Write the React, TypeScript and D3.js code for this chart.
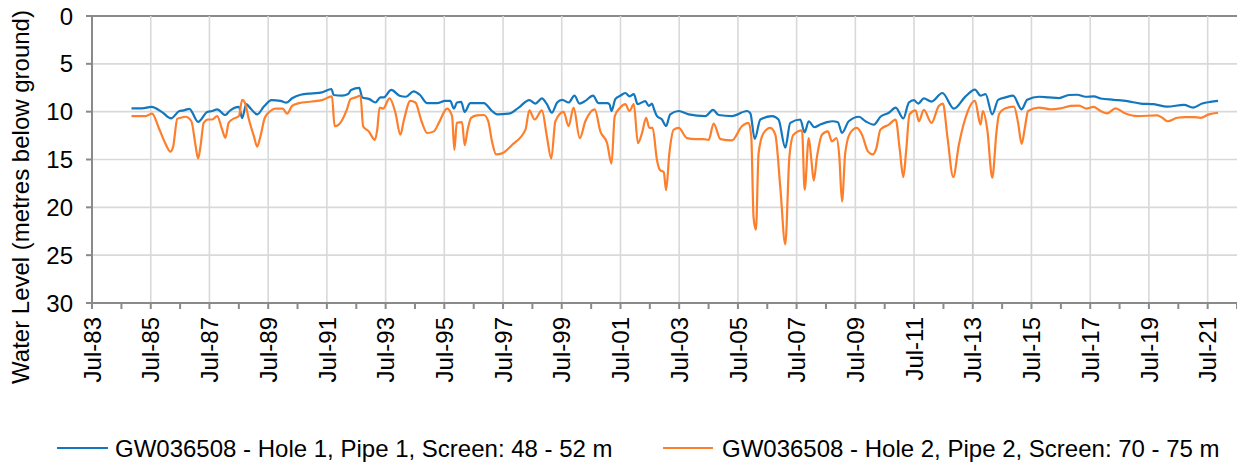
import React from "react";
import * as d3 from "d3";

// ---- Data (decimal year, metres below ground) ----
const hole1Years = [1984.84,1985.20,1985.52,1985.88,1986.19,1986.47,1986.62,1986.81,1987.11,1987.42,1987.59,1987.76,1988.04,1988.18,1988.50,1988.61,1988.75,1988.84,1989.12,1989.35,1989.61,1989.91,1990.12,1990.31,1990.60,1990.99,1991.33,1991.65,1991.73,1992.01,1992.22,1992.32,1992.60,1992.70,1992.94,1993.15,1993.32,1993.43,1993.69,1993.97,1994.19,1994.45,1994.66,1994.91,1995.25,1995.53,1995.70,1995.82,1995.93,1996.07,1996.19,1996.38,1996.84,1997.12,1997.29,1997.69,1998.03,1998.39,1998.60,1998.82,1998.99,1999.16,1999.34,1999.51,1999.73,1999.93,2000.10,2000.30,2000.56,2000.75,2001.04,2001.12,2001.19,2001.32,2001.49,2001.66,2001.81,2001.95,2002.08,2002.34,2002.46,2002.57,2002.63,2002.74,2002.91,2003.05,2003.19,2003.48,2003.82,2004.39,2004.65,2004.84,2005.29,2005.81,2005.92,2006.07,2006.26,2006.66,2006.88,2007.11,2007.28,2007.62,2007.77,2007.91,2008.10,2008.30,2008.53,2008.72,2008.90,2009.04,2009.27,2009.62,2009.84,2010.13,2010.35,2010.64,2010.87,2011.13,2011.32,2011.49,2011.64,2011.83,2012.09,2012.46,2012.85,2013.25,2013.57,2013.76,2013.93,2014.16,2014.36,2014.61,2014.87,2015.16,2015.35,2015.75,2016.09,2016.43,2016.77,2017.05,2017.34,2017.62,2017.85,2018.30,2018.76,2019.21,2019.66,2020.12,2020.69,2021.00,2021.31,2021.59,2021.85];
const hole1Levels = [9.65,9.65,9.5,10.05,10.7,9.93,9.86,9.7,11.06,10.03,9.93,9.75,10.35,9.93,9.5,10.67,9.2,9.47,10.28,9.47,8.8,8.87,9.06,8.6,8.23,8.09,7.98,7.63,8.26,8.33,8.16,7.73,7.52,8.51,8.69,9.04,8.51,8.51,7.73,8.33,8.44,7.87,8.23,9.11,9.11,8.87,8.87,9.68,9.04,8.97,10.03,9.11,9.11,9.93,10.28,10.21,9.57,8.8,9.15,8.62,9.22,10.11,9.04,8.76,9.04,8.33,9.15,8.87,8.33,9.11,9.11,9.22,9.93,8.69,8.33,8.05,8.4,8.16,9.22,8.9,9.4,9.15,9.65,10.46,10.82,11.5,10.28,9.93,10.28,10.46,9.82,10.35,10.46,9.93,10.18,12.84,10.82,10.46,10.82,13.76,11.17,10.82,12.16,11.0,11.63,11.35,11.1,11.0,11.1,12.23,11.0,10.53,11.0,11.35,10.53,10.11,9.57,10.71,9.04,8.8,9.15,8.62,8.94,8.05,9.68,8.4,7.7,8.33,8.16,10.28,8.76,8.51,8.33,9.75,8.76,8.44,8.51,8.58,8.26,8.23,8.44,8.4,8.62,8.76,8.9,9.15,9.22,9.47,9.29,9.57,9.15,8.97,8.87];

const hole2Years = [1984.84,1985.32,1985.54,1985.77,1985.98,1986.17,1986.26,1986.40,1986.51,1986.68,1986.88,1987.02,1987.11,1987.19,1987.30,1987.45,1987.59,1987.76,1987.93,1988.04,1988.15,1988.27,1988.50,1988.61,1988.70,1988.84,1989.01,1989.12,1989.23,1989.38,1989.57,1989.74,1989.99,1990.14,1990.31,1990.54,1990.99,1991.33,1991.67,1991.76,1991.90,1992.18,1992.30,1992.47,1992.64,1992.73,1992.92,1993.13,1993.21,1993.29,1993.41,1993.63,1993.83,1994.00,1994.11,1994.34,1994.51,1994.72,1994.91,1995.14,1995.31,1995.59,1995.76,1995.84,1995.92,1996.10,1996.19,1996.29,1996.41,1996.61,1996.84,1996.99,1997.12,1997.26,1997.46,1997.80,1998.26,1998.39,1998.57,1998.82,1998.99,1999.14,1999.28,1999.56,1999.73,1999.90,2000.11,2000.30,2000.62,2000.81,2001.04,2001.19,2001.30,2001.49,2001.66,2001.80,2001.95,2002.09,2002.23,2002.37,2002.48,2002.59,2002.74,2002.85,2002.97,2003.05,2003.16,2003.31,2003.48,2003.76,2004.05,2004.33,2004.50,2004.67,2004.90,2005.29,2005.63,2005.86,2005.95,2006.03,2006.11,2006.20,2006.37,2006.60,2006.77,2006.94,2007.11,2007.25,2007.39,2007.68,2007.77,2007.91,2008.00,2008.08,2008.19,2008.36,2008.56,2008.70,2008.85,2008.95,2009.04,2009.15,2009.32,2009.55,2009.72,2009.93,2010.09,2010.21,2010.35,2010.64,2010.87,2011.01,2011.13,2011.23,2011.34,2011.55,2011.66,2011.83,2012.09,2012.34,2012.48,2012.63,2012.83,2013.02,2013.23,2013.57,2013.76,2013.84,2013.99,2014.16,2014.30,2014.39,2014.59,2014.90,2015.04,2015.16,2015.27,2015.38,2015.75,2016.14,2016.48,2016.83,2017.11,2017.37,2017.60,2017.85,2018.07,2018.36,2018.64,2019.10,2019.78,2019.95,2020.14,2020.46,2020.74,2021.03,2021.25,2021.54,2021.85];
const hole2Levels = [10.46,10.46,10.21,11.7,13.23,14.18,13.65,10.74,10.64,10.53,11.0,13.48,14.9,13.65,11.17,10.82,10.82,10.46,11.88,12.73,11.17,10.82,10.46,8.76,9.04,10.82,12.59,13.65,12.59,10.64,9.93,9.68,9.68,10.21,9.4,9.11,8.94,8.8,8.4,11.52,11.35,9.75,8.69,8.51,8.33,11.52,12.06,12.94,11.88,9.57,9.68,8.62,10.11,12.41,11.0,8.87,9.04,11.0,12.23,12.06,11.17,9.68,10.46,14.0,11.17,11.1,13.51,11.88,10.64,10.39,10.35,11.0,13.12,14.47,14.36,13.48,11.88,9.86,10.82,9.86,12.59,14.9,11.0,10.03,11.52,9.57,12.76,11.0,9.75,12.06,13.3,15.43,10.46,9.57,9.22,9.93,9.22,13.3,12.23,10.64,11.7,11.7,15.07,16.13,16.31,18.2,14.4,11.88,11.7,12.76,12.87,12.87,12.94,11.24,12.87,13.01,11.52,11.17,12.59,21.1,22.34,14.36,12.23,11.7,12.41,17.91,23.87,14.72,12.41,11.95,18.16,12.76,15.07,17.2,14.72,12.41,12.06,13.12,12.76,14.72,19.4,14.36,12.23,11.7,12.4,14.18,14.47,13.83,11.88,11.35,10.82,14.0,16.84,14.0,10.28,9.86,11.0,9.82,11.17,9.4,9.15,12.59,16.84,13.48,10.82,8.87,11.35,9.93,11.88,16.91,12.23,10.28,9.68,9.47,11.17,13.37,11.7,9.93,9.57,9.75,9.65,9.4,9.36,9.68,9.5,9.93,10.18,9.65,10.11,10.46,10.39,10.64,11.0,10.64,10.57,10.57,10.64,10.28,10.11];

const seriesNames = [
  "GW036508 - Hole 1, Pipe 1, Screen: 48 - 52 m",
  "GW036508 - Hole 2, Pipe 2, Screen: 70 - 75 m",
];
const seriesColors = ["#1477bd", "#fd7f2c"];
const yTicks = [0, 5, 10, 15, 20, 25, 30];
const yTitle = "Water Level (metres below ground)";

const W = 1237, H = 466;
const M = { left: 92, top: 16, right: 1237, bottom: 303 };
const FONT = "'Liberation Sans', Arial, sans-serif";
const TXT = "#000";

function toDate(dy: number): Date {
  const y = Math.floor(dy);
  const start = Date.UTC(y, 0, 1);
  const end = Date.UTC(y + 1, 0, 1);
  return new Date(start + (dy - y) * (end - start));
}

export default function App() {
  const x = d3.scaleUtc()
    .domain([new Date(Date.UTC(1983, 6, 1)), new Date(Date.UTC(2022, 6, 1))])
    .range([M.left, M.right]);
  const y = d3.scaleLinear().domain([0, 30]).range([M.top, M.bottom]);

  const majorTicks: Date[] = [];
  for (let yr = 1983; yr <= 2021; yr += 2) majorTicks.push(new Date(Date.UTC(yr, 6, 1)));
  const minorTicks: Date[] = [];
  for (let yr = 1984; yr <= 2022; yr += 2) minorTicks.push(new Date(Date.UTC(yr, 6, 1)));
  const fmt = d3.utcFormat("%b-%y");

  const line = d3.line<[number, number]>()
    .x((d) => x(toDate(d[0])))
    .y((d) => y(d[1]))
    .curve(d3.curveMonotoneX);

  const s1 = hole1Years.map((yr, i) => [yr, hole1Levels[i]] as [number, number]);
  const s2 = hole2Years.map((yr, i) => [yr, hole2Levels[i]] as [number, number]);

  const gridC = "#d9d9d9";
  const axisC = "#8a8a8a";

  return (
    <svg width={W} height={H} style={{ position: "absolute", left: 0, top: 0, background: "#fff" }} fontFamily={FONT}>
      <rect x={0} y={0} width={W} height={H} fill="#fff" />
      {/* horizontal gridlines */}
      {yTicks.map((t) => (
        <line key={"hg" + t} x1={M.left} x2={M.right} y1={y(t)} y2={y(t)} stroke={t === 0 ? axisC : gridC} strokeWidth={t === 0 ? 2 : 1.6} />
      ))}
      {/* vertical gridlines */}
      {majorTicks.slice(1).map((d, i) => (
        <line key={"vg" + i} x1={x(d)} x2={x(d)} y1={M.top} y2={M.bottom} stroke={gridC} strokeWidth={1.6} />
      ))}
      {/* axes */}
      <line x1={M.left} x2={M.left} y1={M.top - 1} y2={M.bottom} stroke={axisC} strokeWidth={2} />
      <line x1={M.left - 6} x2={M.right} y1={M.bottom} y2={M.bottom} stroke={axisC} strokeWidth={2} />
      {yTicks.map((t) => (
        <line key={"yt" + t} x1={M.left - 6} x2={M.left} y1={y(t)} y2={y(t)} stroke={axisC} strokeWidth={2} />
      ))}
      {majorTicks.concat(minorTicks).map((d, i) => (
        <line key={"xt" + i} x1={x(d)} x2={x(d)} y1={M.bottom} y2={M.bottom + 6} stroke={axisC} strokeWidth={2} />
      ))}
      {/* y tick labels */}
      {yTicks.map((t) => (
        <text key={"yl" + t} x={73} y={y(t)} dy="0.36em" textAnchor="end" fontSize={24} fill={TXT}>{t}</text>
      ))}
      {/* x tick labels */}
      {majorTicks.map((d, i) => (
        <text key={"xl" + i} transform={`translate(${x(d)},${M.bottom + 14}) rotate(-90)`} dy="0.36em" textAnchor="end" fontSize={24} fill={TXT}>{fmt(d)}</text>
      ))}
      {/* y title */}
      <text transform={`translate(20,197) rotate(-90)`} dy="0.36em" textAnchor="middle" fontSize={24} fill={TXT}>{yTitle}</text>
      {/* series */}
      <path d={line(s1) || ""} fill="none" stroke={seriesColors[0]} strokeWidth={2.2} strokeLinejoin="round" />
      <path d={line(s2) || ""} fill="none" stroke={seriesColors[1]} strokeWidth={2.2} strokeLinejoin="round" />
      {/* legend */}
      <line x1={57} x2={108} y1={448} y2={448} stroke={seriesColors[0]} strokeWidth={2.2} />
      <text x={115} y={448} dy="0.36em" fontSize={24} fill={TXT}>{seriesNames[0]}</text>
      <line x1={663} x2={713} y1={448} y2={448} stroke={seriesColors[1]} strokeWidth={2.2} />
      <text x={722} y={448} dy="0.36em" fontSize={24} fill={TXT}>{seriesNames[1]}</text>
    </svg>
  );
}
